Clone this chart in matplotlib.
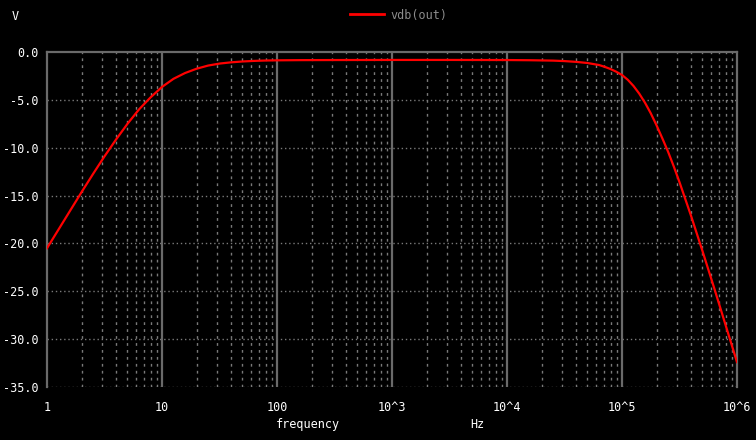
import numpy as np
import matplotlib
matplotlib.use("Agg")
import matplotlib.pyplot as plt
from matplotlib.ticker import FixedLocator, NullFormatter

# values: log10(frequency) and vdb(out)
log_freq = [0.0, 0.1, 0.2, 0.3, 0.4, 0.5, 0.6, 0.7, 0.8, 0.9, 1.0,
            1.1, 1.2, 1.3, 1.4, 1.5, 1.6, 1.7, 1.8, 1.9, 2.0, 2.2,
            2.5, 3.0, 3.5, 4.0, 4.2, 4.4, 4.5, 4.6, 4.7, 4.8, 4.85, 4.9, 4.95,
            5.0, 5.05, 5.1, 5.15, 5.2, 5.25, 5.3, 5.35, 5.4, 5.45, 5.5,
            5.6, 5.7, 5.8, 5.9, 6.0]
vdb = [-20.5, -18.55, -16.6, -14.65, -12.75, -10.9, -9.15, -7.5, -6.0, -4.75, -3.65,
       -2.8, -2.2, -1.75, -1.42, -1.21, -1.08, -0.99, -0.93, -0.89, -0.87, -0.85,
       -0.84, -0.83, -0.83, -0.84, -0.86, -0.9, -0.95, -1.03, -1.15, -1.36, -1.55, -1.78, -2.06,
       -2.4, -2.9, -3.55, -4.35, -5.3, -6.4, -7.65, -9.0, -10.4, -11.95, -13.6,
       -17.1, -20.8, -24.6, -28.5, -32.4]

xtick_vals = [1, 10, 100, 1e3, 1e4, 1e5, 1e6]
xtick_labels = ["1", "10", "100", "10^3", "10^4", "10^5", "10^6"]
ytick_vals = [0, -5, -10, -15, -20, -25, -30, -35]
ytick_labels = ["0.0", "-5.0", "-10.0", "-15.0", "-20.0", "-25.0", "-30.0", "-35.0"]

freq = [10 ** v for v in log_freq]

mono = "DejaVu Sans Mono"
fig = plt.figure(figsize=(7.56, 4.40), dpi=100, facecolor="black")
ax = fig.add_axes([47 / 756, 1 - 387 / 440, 690 / 756, 335 / 440])
ax.set_facecolor("black")
ax.set_xscale("log")
ax.set_xlim(1, 1e6)
ax.set_ylim(-35, 0)

# grid: solid decades, dotted minor / horizontal
minors = [m * 10 ** d for d in range(6) for m in range(2, 10)]
for x in minors:
    ax.axvline(x, color="#7a7a7a", lw=1, ls=(0, (2, 3)), zorder=1)
for x in xtick_vals[1:-1]:
    ax.axvline(x, color="#6a6a6a", lw=1.6, zorder=1.5)
for y in ytick_vals[1:]:
    ax.axhline(y, color="#7a7a7a", lw=1, ls=(0, (1, 2)), zorder=1)

for s in ["top", "left", "right"]:
    ax.spines[s].set_color("#6a6a6a")
    ax.spines[s].set_linewidth(1.6)
ax.spines["bottom"].set_visible(False)

ax.plot(freq, vdb, color="#ff0000", lw=1.6, zorder=3)

ax.xaxis.set_major_locator(FixedLocator(xtick_vals))
ax.set_xticklabels(xtick_labels)
ax.xaxis.set_minor_formatter(NullFormatter())
ax.set_yticks(ytick_vals)
ax.set_yticklabels(ytick_labels)
ax.tick_params(which="both", length=0, colors="white", labelsize=8.5)
ax.tick_params(axis="x", pad=10)
ax.tick_params(axis="y", pad=6)
for lab in ax.get_xticklabels() + ax.get_yticklabels():
    lab.set_family(mono)

fig.text(12 / 756, 1 - 16 / 440, "V", color="white", family=mono, fontsize=8.5, va="center")
fig.add_artist(plt.Line2D([350 / 756, 384 / 756], [1 - 14 / 440, 1 - 14 / 440],
                          color="#ff0000", lw=2, transform=fig.transFigure))
fig.text(390 / 756, 1 - 15 / 440, "vdb(out)", color="#8c8c8c", family=mono, fontsize=8.5, va="center")
fig.text(276 / 756, 1 - 424 / 440, "frequency", color="white", family=mono, fontsize=8.5, va="center")
fig.text(470 / 756, 1 - 424 / 440, "Hz", color="white", family=mono, fontsize=8.5, va="center")

fig.savefig("out.png", dpi=100, facecolor="black")
